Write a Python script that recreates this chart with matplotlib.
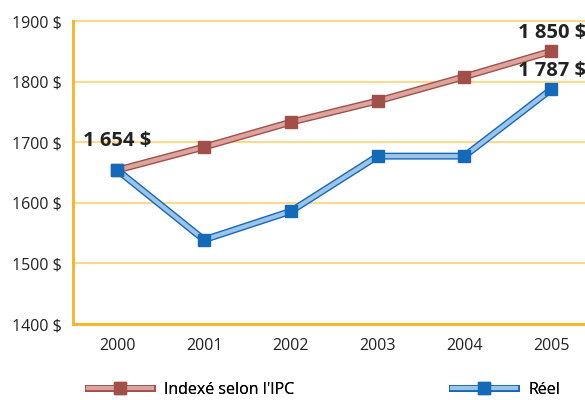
import matplotlib.pyplot as plt
import matplotlib.patheffects as pe
from matplotlib.lines import Line2D

years = [2000, 2001, 2002, 2003, 2004, 2005]
indexe = [1654, 1692, 1733, 1768, 1808, 1850]
reel = [1654, 1539, 1586, 1677, 1677, 1787]
y_ticks = [1400, 1500, 1600, 1700, 1800, 1900]
y_labels = ['1400 $', '1500 $', '1600 $', '1700 $', '1800 $', '1900 $']

plt.rcParams['font.family'] = ['Open Sans', 'DejaVu Sans']

red_dark, red_light = '#a34f49', '#dba59f'
blue_dark, blue_light = '#1469b8', '#9cc3e8'


def outlined(dark, light):
    return dict(color=light, lw=3.0,
                path_effects=[pe.Stroke(linewidth=5.0, foreground=dark), pe.Normal()])


def main():
    fig = plt.figure(figsize=(5.85, 4), dpi=100)
    ax = fig.add_axes([0.1248, 0.19, 0.8752, 0.7575])

    # lines with an outlined look, markers drawn on top
    for vals, dark, light in [(indexe, red_dark, red_light), (reel, blue_dark, blue_light)]:
        ax.plot(years, vals, zorder=3, **outlined(dark, light))
        ax.plot(years, vals, ls='none', marker='s', ms=9, color=dark, zorder=4)

    ax.set_xlim(1999.49, 2005.39)
    ax.set_ylim(1400, 1900)
    ax.set_xticks(years)
    ax.set_yticks(y_ticks)
    ax.set_yticklabels(y_labels)
    ax.tick_params(length=0, labelsize=11.5, colors='#222222', pad=8)
    ax.tick_params(axis='x', pad=10)
    ax.grid(axis='y', color='#ffd98c', lw=1.5, clip_on=False)
    ax.set_axisbelow(True)
    for s in ['top', 'right']:
        ax.spines[s].set_visible(False)
    for s in ['left', 'bottom']:
        ax.spines[s].set_color('#f5b325')
        ax.spines[s].set_linewidth(2)

    # value labels
    ax.annotate('1 654 $', xy=(years[0], indexe[0]), xytext=(0, 14), textcoords='offset points',
                ha='center', va='bottom', fontsize=14.5, fontweight='bold', color='#222222')
    ax.annotate('1 850 $', xy=(years[-1], indexe[-1]), xytext=(25, 6), textcoords='offset points',
                ha='right', va='bottom', fontsize=14.5, fontweight='bold', color='#222222')
    ax.annotate('1 787 $', xy=(years[-1], reel[-1]), xytext=(25, 6), textcoords='offset points',
                ha='right', va='bottom', fontsize=14.5, fontweight='bold', color='#222222')

    # legend, one entry on each side
    entries = [("Indexé selon l'IPC", red_dark, red_light, 0.150),
               ('Réel', blue_dark, blue_light, 0.773)]
    for label, dark, light, x0 in entries:
        h = (Line2D([], [], **outlined(dark, light)),
             Line2D([], [], ls='none', marker='s', ms=8, color=dark))
        leg = fig.legend([h], [label], loc='center left', bbox_to_anchor=(x0, 0.025),
                         frameon=False, handlelength=4.0, fontsize=11.5, handletextpad=0.8,
                         borderaxespad=0, borderpad=0)
        fig.add_artist(leg)

    fig.savefig('out.png', dpi=100)


if __name__ == '__main__':
    main()
